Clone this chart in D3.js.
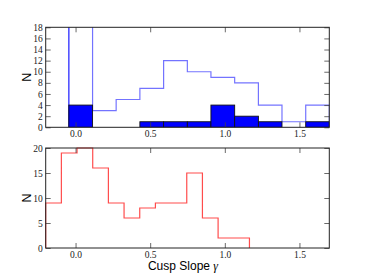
<!DOCTYPE html>
<html>
<head>
<meta charset="utf-8">
<script src="https://cdn.jsdelivr.net/npm/d3@7"></script>
<style>
  body { margin: 0; background: #fff; }
  .tick text { font-family: "Liberation Serif", serif; font-size: 9.5px; fill: #222; }
</style>
</head>
<body>
<div id="chart"></div>
<script>
// bin edges and counts
var topEdges = [-0.045, 0.114, 0.272, 0.431, 0.59, 0.749, 0.907, 1.066, 1.225, 1.383, 1.542, 1.7];
var allCounts = [22, 3, 5, 7, 12, 10, 9, 8, 4, 1, 4];   // first bin runs off the top
var subCounts = [4, 0, 0, 1, 1, 1, 4, 2, 1, 0, 1];

var botEdges = [-0.2, -0.095, 0.01, 0.115, 0.22, 0.325, 0.43, 0.535, 0.64, 0.745, 0.85, 0.955, 1.06, 1.165];
var redCounts = [9, 19, 20, 16, 9, 6, 8, 9, 9, 15, 6, 2, 2];

var xTicks = [0.0, 0.5, 1.0, 1.5];
var topYTicks = [0, 2, 4, 6, 8, 10, 12, 14, 16, 18];
var botYTicks = [0, 5, 10, 15, 20];

var W = 366, H = 276;
var left = 45.7, right = 329.3;

var svg = d3.select("#chart").append("svg")
    .attr("width", W)
    .attr("height", H);

var x = d3.scaleLinear().domain([-0.2, 1.7]).range([left, right]);

function stepPath(edges, counts, y) {
  var p = d3.path();
  p.moveTo(x(edges[0]), y(0));
  counts.forEach(function(c, i) {
    p.lineTo(x(edges[i]), y(c));
    p.lineTo(x(edges[i + 1]), y(c));
  });
  p.lineTo(x(edges[edges.length - 1]), y(0));
  return p.toString();
}

function frame(g, y, yTicks, top, bottom) {
  var fmt = d3.format(".1f");
  g.append("g")
    .attr("transform", "translate(0," + bottom + ")")
    .call(d3.axisBottom(x).tickValues(xTicks).tickFormat(fmt).tickSizeInner(-5).tickSizeOuter(0).tickPadding(3));
  g.append("g")
    .attr("transform", "translate(0," + top + ")")
    .call(d3.axisTop(x).tickValues(xTicks).tickFormat("").tickSizeInner(-5).tickSizeOuter(0));
  g.append("g")
    .attr("transform", "translate(" + left + ",0)")
    .call(d3.axisLeft(y).tickValues(yTicks).tickFormat(d3.format("d")).tickSizeInner(-5).tickSizeOuter(0).tickPadding(3));
  g.append("g")
    .attr("transform", "translate(" + right + ",0)")
    .call(d3.axisRight(y).tickValues(yTicks).tickFormat("").tickSizeInner(-5).tickSizeOuter(0));
  g.selectAll(".domain").remove();
  g.selectAll(".tick line").attr("stroke", "#444").attr("stroke-width", 0.8);
  g.append("rect")
    .attr("x", left).attr("y", top)
    .attr("width", right - left).attr("height", bottom - top)
    .attr("fill", "none").attr("stroke", "#222").attr("stroke-width", 1);
}

// ---- top panel
var t0 = 27.3, t1 = 127.3;
var yTop = d3.scaleLinear().domain([0, 18]).range([t1, t0]);
var gTop = svg.append("g");

svg.append("clipPath").attr("id", "clipTop")
  .append("rect").attr("x", left).attr("y", t0).attr("width", right - left).attr("height", t1 - t0);

var barsTop = gTop.append("g").attr("clip-path", "url(#clipTop)");

barsTop.append("path")
    .attr("d", stepPath(topEdges, allCounts, yTop))
    .attr("fill", "none")
    .attr("stroke", "#0000ff")
    .attr("stroke-opacity", 0.55)
    .attr("stroke-width", 1.2);

// leftmost edge shows darker in the picture
barsTop.append("line")
    .attr("x1", x(topEdges[0])).attr("x2", x(topEdges[0]))
    .attr("y1", yTop(0)).attr("y2", yTop(allCounts[0]))
    .attr("stroke", "#0000ff").attr("stroke-opacity", 0.55).attr("stroke-width", 1.2);

barsTop.selectAll("rect.sub")
  .data(subCounts.map(function(c, i) { return {c: c, x0: topEdges[i], x1: topEdges[i + 1]}; })
               .filter(function(d) { return d.c > 0; }))
  .enter().append("rect")
    .attr("class", "sub")
    .attr("x", function(d) { return x(d.x0); })
    .attr("y", function(d) { return yTop(d.c); })
    .attr("width", function(d) { return x(d.x1) - x(d.x0); })
    .attr("height", function(d) { return yTop(0) - yTop(d.c); })
    .attr("fill", "#0000ff")
    .attr("stroke", "#111")
    .attr("stroke-width", 0.9);

frame(gTop, yTop, topYTicks, t0, t1);

// ---- bottom panel
var b0 = 148, b1 = 248;
var yBot = d3.scaleLinear().domain([0, 20]).range([b1, b0]);
var gBot = svg.append("g");

gBot.append("path")
    .attr("d", stepPath(botEdges, redCounts, yBot))
    .attr("fill", "none")
    .attr("stroke", "#ff0000")
    .attr("stroke-opacity", 0.7)
    .attr("stroke-width", 1.2);

frame(gBot, yBot, botYTicks, b0, b1);

// ---- labels
svg.append("text")
    .attr("transform", "translate(30.5," + ((t0 + t1) / 2) + ") rotate(-90)")
    .style("text-anchor", "middle")
    .style("font-family", "'Liberation Sans', Arial, sans-serif")
    .style("font-size", "12.5px")
    .text("N");

svg.append("text")
    .attr("transform", "translate(30.5," + ((b0 + b1) / 2) + ") rotate(-90)")
    .style("text-anchor", "middle")
    .style("font-family", "'Liberation Sans', Arial, sans-serif")
    .style("font-size", "12.5px")
    .text("N");

var xl = svg.append("text")
    .attr("x", 183)
    .attr("y", 269.5)
    .style("text-anchor", "middle")
    .style("font-family", "'Liberation Sans', Arial, sans-serif")
    .style("font-size", "12px");
xl.append("tspan").text("Cusp Slope ");
xl.append("tspan")
    .style("font-family", "'Liberation Serif', serif")
    .style("font-style", "italic")
    .text("γ");
</script>
</body>
</html>
